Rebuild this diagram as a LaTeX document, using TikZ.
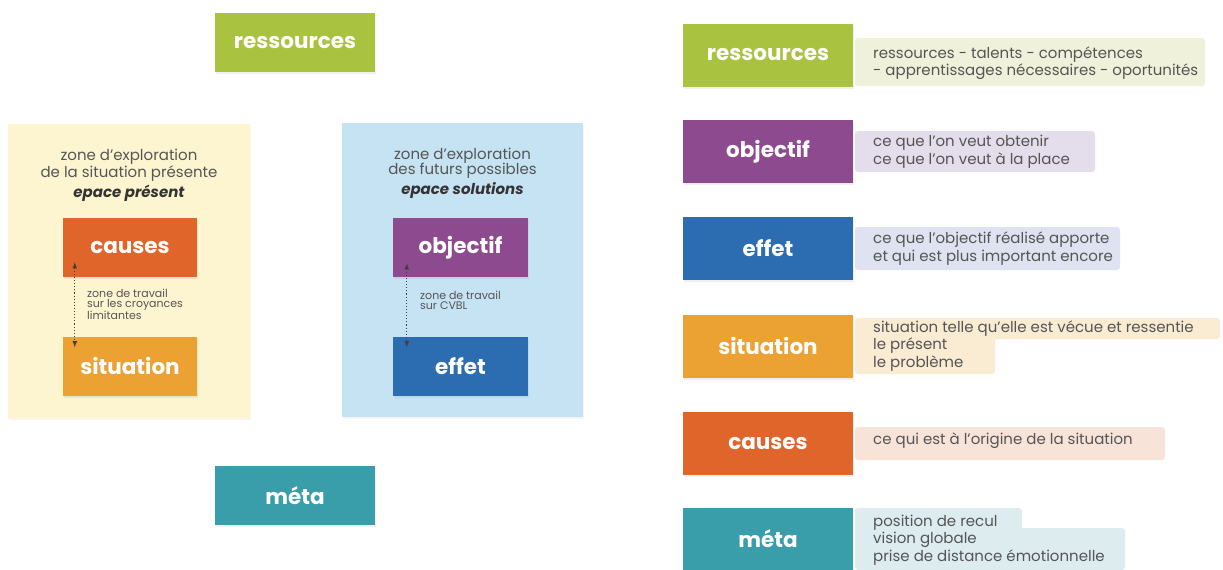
\documentclass[tikz,border=0pt]{standalone}
\usepackage{fontspec}
\setmainfont{Poppins}
\usetikzlibrary{arrows}
\usetikzlibrary{positioning}
\usetikzlibrary{shadows}
\definecolor{mgreen}{HTML}{A9C23F}
\definecolor{mpurple}{HTML}{8E4A8E}
\definecolor{mblue}{HTML}{2C6CB0}
\definecolor{mamber}{HTML}{EBA232}
\definecolor{morange}{HTML}{E0652A}
\definecolor{mteal}{HTML}{3A9DAA}
\definecolor{pyellow}{HTML}{FDF5CF}
\definecolor{pblue}{HTML}{C6E3F3}
\definecolor{bgreen}{HTML}{EFF1DA}
\definecolor{bpurple}{HTML}{E4DDEC}
\definecolor{bblue}{HTML}{DFE2F0}
\definecolor{bamber}{HTML}{FAEBD3}
\definecolor{borange}{HTML}{F8E3D9}
\definecolor{bteal}{HTML}{DDECEF}
\definecolor{mgray}{HTML}{555555}
\tikzset{tag/.style = {text = white, font = \bfseries\fontsize{21.5}{24}\selectfont, minimum width = 160pt, minimum height = 59pt, inner sep = 0,
    drop shadow = {opacity = 0.12, shadow xshift = 1pt, shadow yshift = -2pt}}}
\tikzset{ltag/.style = {tag, minimum width = 134pt}}
\tikzset{rtag/.style = {tag, minimum width = 170pt, minimum height = 63pt}}
\tikzset{panel/.style = {minimum width = 242pt, minimum height = 294pt, inner sep = 0,
    drop shadow = {opacity = 0.08, shadow xshift = 1pt, shadow yshift = -2pt}}}
\tikzset{title/.style = {text = mgray, align = center, inner sep = 0, font = \fontsize{15}{15.5}\selectfont}}
\tikzset{small/.style = {text = mgray, align = left, inner sep = 0, font = \fontsize{11}{10}\selectfont}}
\tikzset{note/.style = {text = mgray, align = left, inner sep = 0, font = \fontsize{15}{17.5}\selectfont}}
\tikzset{link/.style = {dotted, line width = 1.1pt, color = black!75, <->, >=latex}}

\begin{document}
\begin{tikzpicture}[x=1pt, y=-1pt]
    \useasboundingbox (0, 0) rectangle (1223, 570);

    % left side
    \node [tag, fill = mgreen] (res) at (295, 42.5) {ressources};
    \node [tag, fill = mteal] (meta) at (295, 495.5) {méta};

    \node [panel, fill = pyellow] (present) at (129, 271) {};
    \node [title, below = 25pt of present.north] (present-t)
      {zone d'exploration\\de la situation présente\\[3pt]{\bfseries\itshape\color{black!80} epace présent}};
    \node [ltag, fill = morange] (causes) at (130, 247.5) {causes};
    \node [ltag, fill = mamber] (sit) at (130, 366) {situation};
    \draw [link] ([xshift = 12pt, yshift = 15pt] causes.south west) -- ([xshift = 12pt, yshift = -11pt] sit.north west);
    \node [small, anchor = west] (present-s) at (87, 304) {zone de travail\\sur les croyances\\limitantes};

    \node [panel, fill = pblue, minimum width = 241pt] (futur) at (462.5, 270) {};
    \node [title, below = 25pt of futur.north] (futur-t)
      {zone d'exploration\\des futurs possibles\\[3pt]{\bfseries\itshape\color{black!80} epace solutions}};
    \node [ltag, fill = mpurple, minimum width = 135pt] (obj) at (460.5, 247.5) {objectif};
    \node [ltag, fill = mblue, minimum width = 135pt] (eff) at (460.5, 366) {effet};
    \draw [link] ([xshift = 14pt, yshift = 14pt] obj.south west) -- ([xshift = 14pt, yshift = -11pt] eff.north west);
    \node [small, anchor = west] (futur-s) at (420, 300) {zone de travail\\sur CVBL};

    % right side: legend
    \fill [bgreen, rounded corners = 3pt] (855, 38) rectangle (1205, 86);
    \fill [bpurple, rounded corners = 3pt] (855, 131) rectangle (1095, 172);
    \fill [bblue, rounded corners = 3pt] (855, 227) rectangle (1120, 270);
    \fill [bamber, rounded corners = 3pt] (855, 318) rectangle (1220, 339);
    \fill [bamber, rounded corners = 3pt] (855, 330) rectangle (995, 374);
    \fill [borange, rounded corners = 3pt] (855, 427) rectangle (1165, 460);
    \fill [bteal, rounded corners = 3pt] (855, 508) rectangle (1022, 532);
    \fill [bteal, rounded corners = 3pt] (855, 528) rectangle (1125, 570);

    \node [rtag, fill = mgreen] (res-r) at (768, 55) {ressources};
    \node [rtag, fill = mpurple] (obj-r) at (768, 151.5) {objectif};
    \node [rtag, fill = mblue] (eff-r) at (768, 248.5) {effet};
    \node [rtag, fill = mamber] (sit-r) at (768, 346) {situation};
    \node [rtag, fill = morange] (causes-r) at (768, 443.5) {causes};
    \node [rtag, fill = mteal] (meta-r) at (768, 539) {méta};

    \node [note, anchor = west] (res-n) at (873, 63) {ressources - talents - compétences\\- apprentissages nécessaires - oportunités};
    \node [note, anchor = west] (obj-n) at (873, 151.5) {ce que l'on veut obtenir\\ce que l'on veut à la place};
    \node [note, anchor = west] (eff-n) at (873, 248.5) {ce que l'objectif réalisé apporte\\et qui est plus important encore};
    \node [note, anchor = west] (sit-n) at (873, 346) {situation telle qu'elle est vécue et ressentie\\le présent\\le problème};
    \node [note, anchor = west] (causes-n) at (873, 441) {ce qui est à l'origine de la situation};
    \node [note, anchor = west] (meta-n) at (873, 540) {position de recul\\vision globale\\prise de distance émotionnelle};
  \end{tikzpicture}
\end{document}
